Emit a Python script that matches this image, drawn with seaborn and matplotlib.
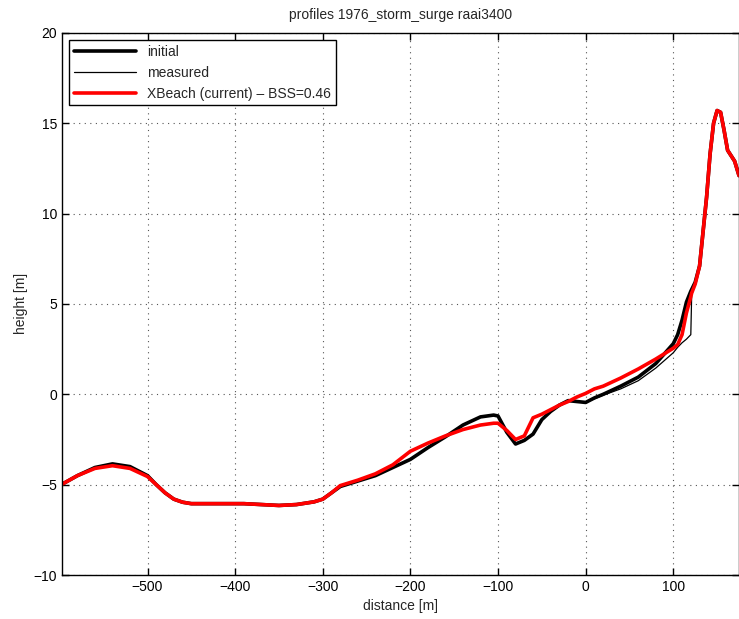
import numpy as np
import pandas as pd
import seaborn as sns
import matplotlib
matplotlib.use("Agg")
import matplotlib.pyplot as plt

# cross-shore positions [m]
distance = [-597, -580, -560, -540, -520, -500, -490, -480, -470, -460, -450,
            -420, -390, -370, -350, -330, -310, -300, -290, -280, -260, -240,
            -220, -200, -180, -160, -140, -120, -105, -100, -90, -80, -70, -60,
            -50, -40, -30, -20, -10, 0, 10, 20, 40, 60, 80, 100, 105, 110, 115,
            120, 121, 125, 130, 134, 138, 142, 146, 150, 154, 158, 162, 166,
            170, 175]

initial = [-4.96, -4.5, -4.05, -3.85, -4.0, -4.5, -5.0, -5.45, -5.8, -5.97,
           -6.05, -6.05, -6.05, -6.1, -6.15, -6.1, -5.95, -5.8, -5.45, -5.1,
           -4.8, -4.5, -4.05, -3.6, -2.95, -2.35, -1.7, -1.25, -1.15, -1.2,
           -2.1, -2.75, -2.55, -2.2, -1.4, -0.95, -0.6, -0.35, -0.4, -0.45,
           -0.2, 0.0, 0.45, 0.95, 1.7, 2.8, 3.3, 4.1, 5.1, 5.7, 5.8, 6.2, 7.1,
           9.0, 10.9, 13.3, 15.0, 15.7, 15.6, 14.6, 13.5, 13.2, 12.9, 12.1]

measured = [-4.96, -4.5, -4.05, -3.85, -4.0, -4.5, -5.0, -5.45, -5.8, -5.97,
            -6.05, -6.05, -6.05, -6.1, -6.15, -6.1, -5.95, -5.8, -5.45, -5.1,
            -4.8, -4.5, -4.05, -3.6, -2.95, -2.35, -1.7, -1.25, -1.15, -1.2,
            -2.1, -2.75, -2.55, -2.2, -1.4, -0.95, -0.6, -0.35, -0.4, -0.45,
            -0.25, -0.05, 0.3, 0.75, 1.45, 2.3, 2.6, 2.85, 3.05, 3.3, 5.5, 6.1,
            7.1, 9.0, 10.9, 13.3, 15.0, 15.7, 15.6, 14.6, 13.5, 13.2, 12.9, 12.1]

xbeach = [-4.96, -4.5, -4.1, -3.95, -4.1, -4.55, -5.0, -5.45, -5.8, -5.97,
          -6.05, -6.05, -6.05, -6.1, -6.15, -6.1, -5.95, -5.8, -5.45, -5.05,
          -4.75, -4.4, -3.9, -3.15, -2.7, -2.3, -1.95, -1.7, -1.6, -1.6,
          -2.0, -2.5, -2.3, -1.3, -1.1, -0.85, -0.6, -0.4, -0.15, 0.05, 0.3,
          0.45, 0.9, 1.4, 1.95, 2.55, 2.75, 3.3, 4.5, 5.4, 5.6, 6.1, 7.1, 9.0,
          10.9, 13.3, 15.0, 15.7, 15.6, 14.6, 13.5, 13.2, 12.9, 12.1]

labels = ['initial', 'measured', 'XBeach (current) \u2013 BSS=0.46']

df = pd.DataFrame({
    'distance': distance * 3,
    'height': initial + measured + xbeach,
    'profile': [labels[0]] * len(distance) + [labels[1]] * len(distance) + [labels[2]] * len(distance),
})

sns.set_style('ticks')
plt.rcParams.update({
    'font.family': ['Liberation Sans', 'DejaVu Sans'],
    'font.size': 10,
    'xtick.direction': 'in',
    'ytick.direction': 'in',
    'xtick.top': True,
    'ytick.right': True,
    'axes.linewidth': 1.0,
    'axes.edgecolor': 'black',
})

fig = plt.figure(figsize=(7.39, 6.19), dpi=100)
ax = fig.add_axes([0.084, 0.071, 0.916, 0.876])

sns.lineplot(data=df, x='distance', y='height', hue='profile', size='profile',
             palette=['black', 'black', 'red'], sizes=[2.6, 0.9, 2.6],
             estimator=None, sort=False, ax=ax)

ax.set_xlim(-597.5, 175)
ax.set_ylim(-10, 20)
ax.set_xticks([-500, -400, -300, -200, -100, 0, 100])
ax.set_yticks([-10, -5, 0, 5, 10, 15, 20])
ax.set_xticklabels(['\u2212500', '\u2212400', '\u2212300', '\u2212200', '\u2212100', '0', '100'])
ax.set_yticklabels(['\u221210', '\u22125', '0', '5', '10', '15', '20'])
ax.grid(True, linestyle=(0, (1, 4)), color='#555555', linewidth=0.8)
ax.tick_params(length=5, width=1, colors='black', labelsize=10)
for s in ax.spines.values():
    s.set_visible(True)

ax.set_xlabel('distance [m]', labelpad=4)
ax.set_ylabel('height [m]', labelpad=4)
ax.set_title('profiles 1976_storm_surge raai3400', fontsize=10, pad=10)

handles, _ = ax.get_legend_handles_labels()
leg = ax.legend(handles=handles[-3:] if len(handles) > 3 else handles, labels=labels,
                loc='upper left', fancybox=False, framealpha=1, edgecolor='black',
                fontsize=10, handlelength=4.5, borderaxespad=0.5, labelspacing=0.5,
                borderpad=0.35)
leg.get_frame().set_linewidth(1.0)

plt.savefig('out.png', dpi=100)
